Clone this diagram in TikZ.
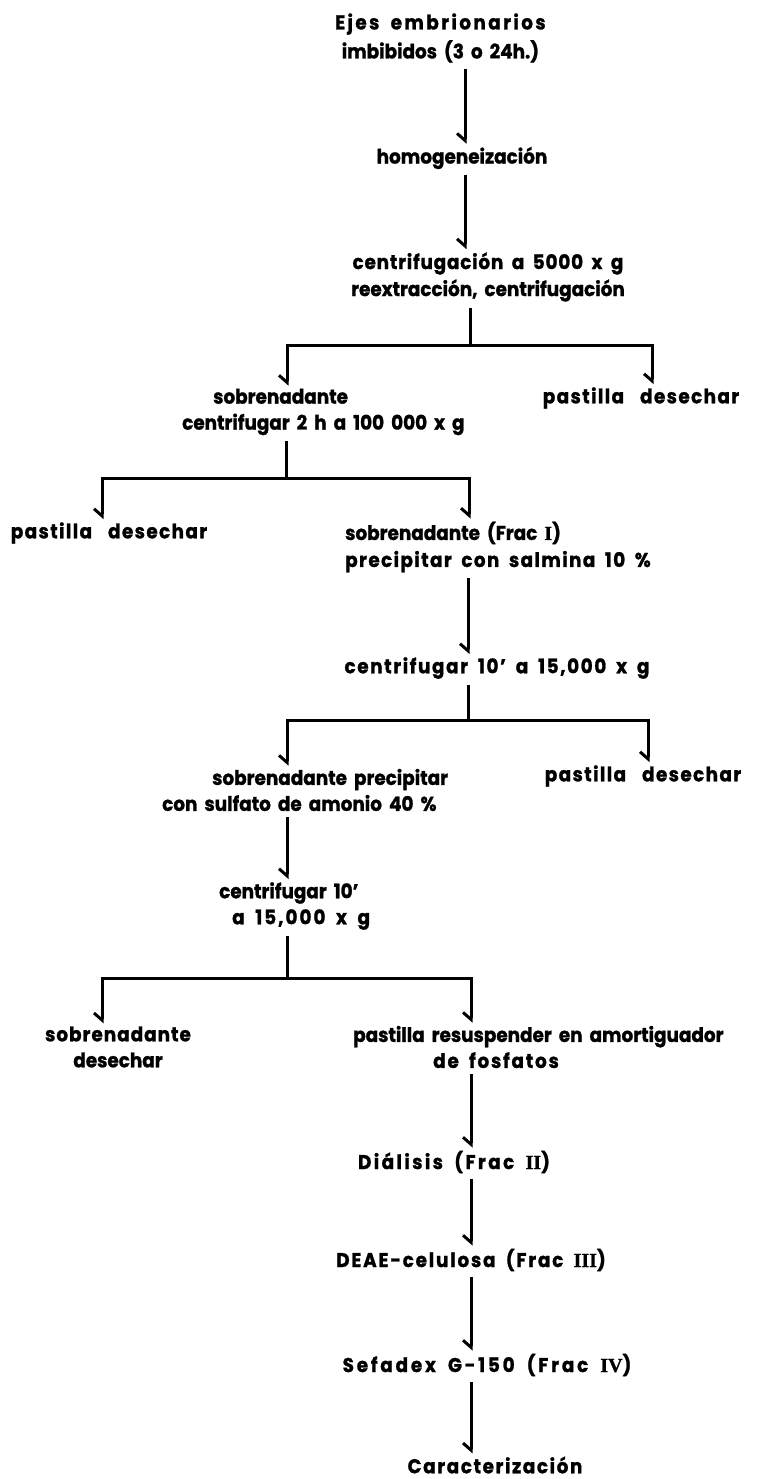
\documentclass[tikz,border=0pt]{standalone}
\usepackage{fontspec}
\setmainfont{Poppins}[FakeStretch=0.92,WordSpace=1.8,BoldFeatures={FakeBold=1.2}]
\newfontfamily\romfont{Liberation Serif}[BoldFeatures={FakeBold=1}]
\usetikzlibrary{arrows.meta}
\newcommand{\rn}[1]{{\romfont\bfseries #1}}
\newcommand{\ls}[1]{\addfontfeature{LetterSpace=#1}}
\newcommand{\pd}{{\ls{7}pastilla\hspace{16pt}desechar}}
\begin{document}
\begin{tikzpicture}[x=1pt,y=-1pt,
  lbl/.style={font=\bfseries\fontsize{20}{26}\selectfont, inner sep=0pt, align=center},
  conn/.style={line width=3pt},
  fromnode/.style={shorten <=6pt},
  arr/.style={conn,shorten >=3pt,-{Straight Barb[right,length=7pt,width=16pt]}}]
\useasboundingbox (0,0) rectangle (757,1479);
% nodes
\node[lbl,anchor=west,font=\bfseries\fontsize{20}{29}\selectfont] (n1) at (335,38) {\ls{12}Ejes embrionarios\\imbibidos (3 o 24h.)};
\node[lbl] (n2) at (462,158) {homogeneización};
\node[lbl,font=\bfseries\fontsize{20}{27}\selectfont] (n3) at (488,277) {\ls{4}centrifugación a 5000 x g\\reextracción, centrifugación};
\node[lbl,align=left,anchor=west] (n4) at (182,412) {\hspace*{31pt}sobrenadante\\centrifugar 2 h a 100 000 x g};
\node[lbl] (n5) at (641,398) {\pd};
\node[lbl] (n6) at (109,533) {\pd};
\node[lbl,align=left,anchor=west,font=\bfseries\fontsize{20}{27}\selectfont] (n7) at (345,547) {sobrenadante (Frac \rn{I})\\{\ls{7}precipitar con salmina 10 \%}};
\node[lbl] (n8) at (497,668) {\ls{8}centrifugar 10' a 15,000 x g};
\node[lbl,align=left,anchor=west] (n9) at (162,790) {\hspace*{50pt}sobrenadante precipitar\\con sulfato de amonio 40 \%};
\node[lbl] (n10) at (643,776) {\pd};
\node[lbl,align=left,anchor=west] (n11) at (219,906) {centrifugar 10'\\\hspace*{13pt}{\ls{10}a 15,000 x g}};
\node[lbl] (n12) at (118,1047) {\ls{5}sobrenadante\\desechar};
\node[lbl,align=left,anchor=west] (n13) at (353,1047) {pastilla resuspender en amortiguador\\\hspace*{80pt}{\ls{9}de fosfatos}};
\node[lbl] (n14) at (454,1162) {\ls{12}Diálisis (Frac \rn{II})};
\node[lbl] (n15) at (471,1260) {\ls{9}DEAE-celulosa (Frac \rn{III})};
\node[lbl] (n16) at (487,1365) {\ls{14}Sefadex G-150 (Frac \rn{IV})};
\node[lbl] (n17) at (495,1465) {\ls{8}Caracterización};
% line x positions and bar junctions
\coordinate (xa) at (465,0);
\coordinate (b1) at (470,345);
\coordinate (xb1l) at (287,0);
\coordinate (xb1r) at (652,0);
\coordinate (b2) at (286,478);
\coordinate (xb2l) at (102,0);
\coordinate (xb2r) at (469,0);
\coordinate (b3) at (468,720);
\coordinate (xb3l) at (287,0);
\coordinate (xb3r) at (648,0);
\coordinate (b4) at (287,978);
\coordinate (xb4r) at (471,0);
\coordinate (xc) at (471,0);
% connectors
\draw[arr,fromnode] (n1.south -| xa) -- (n2.north -| xa);
\draw[arr,fromnode] (n2.south -| xa) -- (n3.north -| xa);
\draw[conn,fromnode] (n3.south -| b1) -- (b1);
\draw[arr] (b1) -| (n4.north -| xb1l);
\draw[arr] (b1) -| (n5.north -| xb1r);
\draw[conn,fromnode] (n4.south -| b2) -- (b2);
\draw[arr] (b2) -| (n6.north -| xb2l);
\draw[arr] (b2) -| (n7.north -| xb2r);
\draw[arr,fromnode] (n7.south -| b3) -- (n8.north -| b3);
\draw[conn,fromnode] (n8.south -| b3) -- (b3);
\draw[arr] (b3) -| (n9.north -| xb3l);
\draw[arr] (b3) -| (n10.north -| xb3r);
\draw[arr,fromnode] (n9.south -| xb3l) -- (n11.north -| xb3l);
\draw[conn,fromnode] (n11.south -| b4) -- (b4);
\draw[arr] (b4) -| (n12.north -| xb2l);
\draw[arr] (b4) -| (n13.north -| xb4r);
\draw[arr,fromnode] (n13.south -| xc) -- (n14.north -| xc);
\draw[arr,fromnode] (n14.south -| xc) -- (n15.north -| xc);
\draw[arr,fromnode] (n15.south -| xc) -- (n16.north -| xc);
\draw[arr,fromnode] (n16.south -| xc) -- (n17.north -| xc);
\end{tikzpicture}
\end{document}
